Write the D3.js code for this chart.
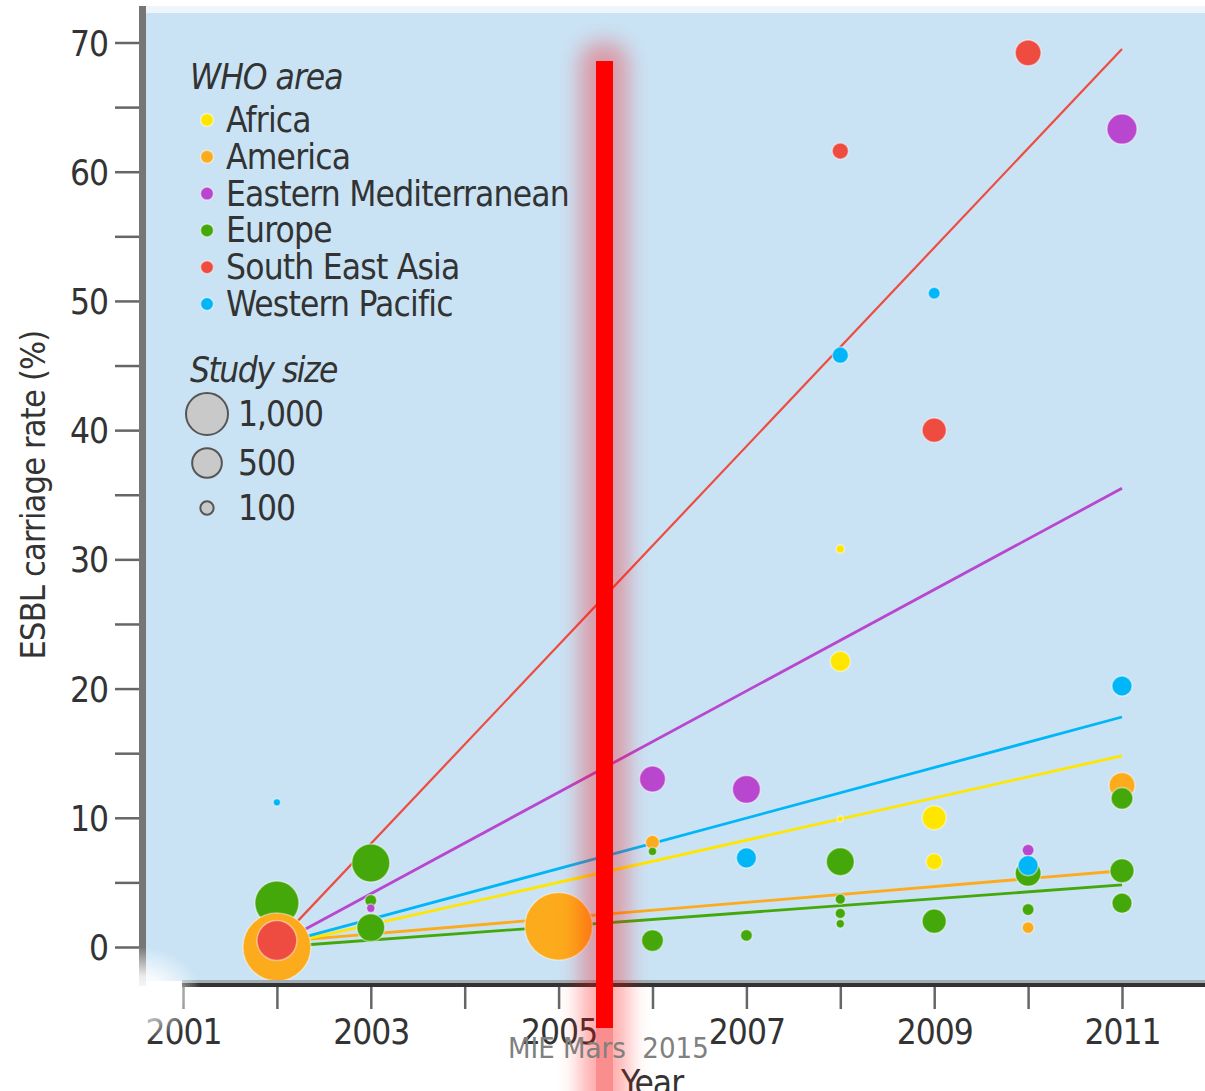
<!DOCTYPE html>
<html>
<head>
<meta charset="utf-8">
<script src="https://cdn.jsdelivr.net/npm/d3@7"></script>
<style>
  html, body { margin: 0; padding: 0; background: #fff; overflow: hidden; }
  svg { display: block; }
  text { font-family: "Liberation Sans Narrow", "Arial Narrow", "DejaVu Sans Condensed", sans-serif; fill: #333; }
</style>
</head>
<body>
<svg id="chart" width="1205" height="1091"></svg>
<script>
/* global d3 */

const areas = ['Africa', 'America', 'Eastern Mediterranean', 'Europe', 'South East Asia', 'Western Pacific']
const areaColors = ['#ffe600', '#fcab1c', '#b946ce', '#45a80a', '#ee4c40', '#00b6f7']

const yearTicks = [2001, 2002, 2003, 2004, 2005, 2006, 2007, 2008, 2009, 2010, 2011]
const yearLabels = [2001, 2003, 2005, 2007, 2009, 2011]
const rateTicks = [0, 5, 10, 15, 20, 25, 30, 35, 40, 45, 50, 55, 60, 65, 70]
const rateLabels = [0, 10, 20, 30, 40, 50, 60, 70]
const legendSizes = [1000, 500, 100]

// [area, year, carriage rate %, study size] - drawn in this order
const studies = [
  ['Western Pacific', 2002, 11.2, 30],
  ['Europe', 2002, 3.4, 1100],
  ['America', 2002, 0.0, 2620],
  ['South East Asia', 2002, 0.5, 900],
  ['Europe', 2003, 6.5, 820],
  ['Europe', 2003, 3.6, 80],
  ['Eastern Mediterranean', 2003, 3.0, 40],
  ['Europe', 2003, 1.5, 440],
  ['America', 2005, 1.6, 2600],
  ['Eastern Mediterranean', 2006, 13.0, 380],
  ['America', 2006, 8.1, 110],
  ['Europe', 2006, 7.4, 40],
  ['Europe', 2006, 0.5, 270],
  ['Eastern Mediterranean', 2007, 12.2, 440],
  ['Western Pacific', 2007, 6.9, 230],
  ['Europe', 2007, 0.9, 80],
  ['South East Asia', 2008, 61.6, 150],
  ['Western Pacific', 2008, 45.8, 150],
  ['Africa', 2008, 30.8, 40],
  ['Africa', 2008, 22.1, 230],
  ['Africa', 2008, 9.9, 20],
  ['Europe', 2008, 6.6, 440],
  ['Europe', 2008, 3.7, 60],
  ['Europe', 2008, 2.6, 60],
  ['Europe', 2008, 1.8, 40],
  ['Western Pacific', 2009, 50.6, 80],
  ['South East Asia', 2009, 40.0, 330],
  ['Africa', 2009, 10.0, 330],
  ['Africa', 2009, 6.6, 150],
  ['Europe', 2009, 2.0, 330],
  ['South East Asia', 2010, 69.2, 380],
  ['Europe', 2010, 5.7, 380],
  ['Eastern Mediterranean', 2010, 7.5, 80],
  ['Western Pacific', 2010, 6.3, 230],
  ['Europe', 2010, 2.9, 80],
  ['America', 2010, 1.5, 80],
  ['Eastern Mediterranean', 2011, 63.3, 510],
  ['Western Pacific', 2011, 20.2, 230],
  ['America', 2011, 12.5, 380],
  ['Europe', 2011, 11.5, 270],
  ['Europe', 2011, 5.9, 330],
  ['Europe', 2011, 3.4, 230]
]

// [area, fitted rate 2002, fitted rate 2011]
const trends = [
  ['Europe', 0.0, 4.8],
  ['America', 0.4, 5.9],
  ['Africa', 0.1, 14.8],
  ['Western Pacific', 0.2, 17.8],
  ['Eastern Mediterranean', 0.2, 35.5],
  ['South East Asia', 0.3, 69.5]
]

const color = d3.scaleOrdinal().domain(areas).range(areaColors)
const x = d3.scaleLinear().domain([2001, 2011]).range([183, 1122])
const y = d3.scaleLinear().domain([0, 70]).range([947, 42.5])
const r = d3.scaleSqrt().domain([0, 1000]).range([0, 21])

const svg = d3.select('#chart')
const defs = svg.append('defs')

const fade = defs.append('radialGradient').attr('id', 'fade')
fade.append('stop').attr('offset', '0%').attr('stop-color', '#fff').attr('stop-opacity', 1)
fade.append('stop').attr('offset', '40%').attr('stop-color', '#fff').attr('stop-opacity', 0.85)
fade.append('stop').attr('offset', '100%').attr('stop-color', '#fff').attr('stop-opacity', 0)

defs.append('filter').attr('id', 'glow')
  .attr('x', '-2').attr('y', '-0.1').attr('width', '5').attr('height', '1.2')
  .append('feGaussianBlur').attr('stdDeviation', 11)

// plot background
svg.append('rect').attr('x', 146).attr('y', 6).attr('width', 1059).attr('height', 8).attr('fill', '#eef6fc')
svg.append('rect').attr('x', 146).attr('y', 13).attr('width', 1059).attr('height', 968).attr('fill', '#c9e3f5')

// trend lines
svg.append('g')
  .selectAll('line')
  .data(trends)
  .join('line')
  .attr('x1', x(2002))
  .attr('y1', d => y(d[1]))
  .attr('x2', x(2011))
  .attr('y2', d => y(d[2]))
  .attr('stroke', d => color(d[0]))
  .attr('stroke-width', d => d[0] === 'South East Asia' ? 2.2 : 2.8)

// studies
svg.append('g')
  .selectAll('circle')
  .data(studies)
  .join('circle')
  .attr('cx', d => x(d[1]))
  .attr('cy', d => y(d[2]))
  .attr('r', d => r(d[3]))
  .attr('fill', d => color(d[0]))
  .attr('stroke', 'rgba(255,255,255,0.45)')
  .attr('stroke-width', 1.5)

// legend: WHO area
const legend = svg.append('g')
legend.append('text').attr('x', 190).attr('y', 89).attr('font-size', 35)
  .attr('letter-spacing', -1).attr('font-style', 'italic').text('WHO area')
const rows = legend.selectAll('g.row')
  .data(areas)
  .join('g')
  .attr('class', 'row')
  .attr('transform', (d, i) => 'translate(0,' + (120 + i * 36.8) + ')')
rows.append('circle').attr('cx', 207).attr('r', 6.5).attr('fill', d => color(d))
  .attr('stroke', 'rgba(255,255,255,0.5)').attr('stroke-width', 1.5)
rows.append('text').attr('x', 226).attr('y', 12).attr('font-size', 35)
  .attr('letter-spacing', -0.8).text(d => d)

// legend: study size
legend.append('text').attr('x', 190).attr('y', 382).attr('font-size', 35)
  .attr('letter-spacing', -1.5).attr('font-style', 'italic').text('Study size')
const sizeRows = legend.selectAll('g.size')
  .data(legendSizes)
  .join('g')
  .attr('class', 'size')
  .attr('transform', (d, i) => 'translate(0,' + [414, 463, 508][i] + ')')
sizeRows.append('circle').attr('cx', 207).attr('r', d => r(d))
  .attr('fill', '#c9c9c9').attr('stroke', '#555').attr('stroke-width', 2)
sizeRows.append('text').attr('x', 238).attr('y', 12).attr('font-size', 35)
  .attr('letter-spacing', -1).text(d3.format(','))

// y axis
const yAxis = svg.append('g')
  .attr('transform', 'translate(140,0)')
  .call(d3.axisLeft(y).tickValues(rateTicks).tickSize(25).tickPadding(7)
    .tickFormat(d => rateLabels.includes(d) ? d : ''))
yAxis.select('.domain').remove()
yAxis.selectAll('.tick line').attr('stroke', '#666').attr('stroke-width', 2.5)
yAxis.selectAll('.tick text').attr('font-size', 35).attr('font-family', null).attr('fill', '#333')
  .attr('letter-spacing', -1).attr('dy', '0.36em')
svg.append('line').attr('x1', 142.5).attr('x2', 142.5).attr('y1', 6).attr('y2', 986)
  .attr('stroke', '#767676').attr('stroke-width', 7)

// x axis
const xAxis = svg.append('g')
  .attr('transform', 'translate(0,986)')
  .call(d3.axisBottom(x).tickValues(yearTicks).tickSize(23).tickPadding(10)
    .tickFormat(d => yearLabels.includes(d) ? d : ''))
xAxis.select('.domain').remove()
xAxis.selectAll('.tick line').attr('stroke', '#666').attr('stroke-width', 2.5)
xAxis.selectAll('.tick text').attr('font-size', 35).attr('font-family', null).attr('fill', '#333')
  .attr('letter-spacing', -1)
svg.append('line').attr('x1', 182).attr('x2', 1205).attr('y1', 981.5).attr('y2', 981.5)
  .attr('stroke', '#a3adb3').attr('stroke-width', 3)
svg.append('line').attr('x1', 182).attr('x2', 1205).attr('y1', 985).attr('y2', 985)
  .attr('stroke', '#333').attr('stroke-width', 4)

// soft white corner bottom left
svg.append('ellipse').attr('cx', 140).attr('cy', 995).attr('rx', 62).attr('ry', 48).attr('fill', 'url(#fade)')

// axis titles
svg.append('text')
  .attr('transform', 'translate(45,495) rotate(-90)')
  .attr('text-anchor', 'middle')
  .attr('font-size', 34)
  .attr('letter-spacing', -0.8)
  .text('ESBL carriage rate (%)')
svg.append('text')
  .attr('x', 652).attr('y', 1095)
  .attr('text-anchor', 'middle')
  .attr('font-size', 35)
  .attr('letter-spacing', -1)
  .text('Year')

// red marker bar with glow
svg.append('rect').attr('x', 580).attr('y', 42).attr('width', 48).attr('height', 1100)
  .attr('rx', 20).attr('fill', 'rgba(255,0,0,0.33)').attr('filter', 'url(#glow)')
svg.append('rect').attr('x', 596).attr('y', 61).attr('width', 17).attr('height', 967).attr('fill', '#ff0000')
svg.append('rect').attr('x', 596).attr('y', 1028).attr('width', 17).attr('height', 70).attr('fill', '#fa8d8d')

// watermark
svg.append('text')
  .attr('x', 508).attr('y', 1058)
  .attr('font-family', 'Liberation Sans, Arial, sans-serif')
  .attr('font-size', 29)
  .attr('xml:space', 'preserve')
  .style('white-space', 'pre')
  .style('fill', '#808080')
  .text('MIE Mars  2015')
</script>
</body>
</html>
